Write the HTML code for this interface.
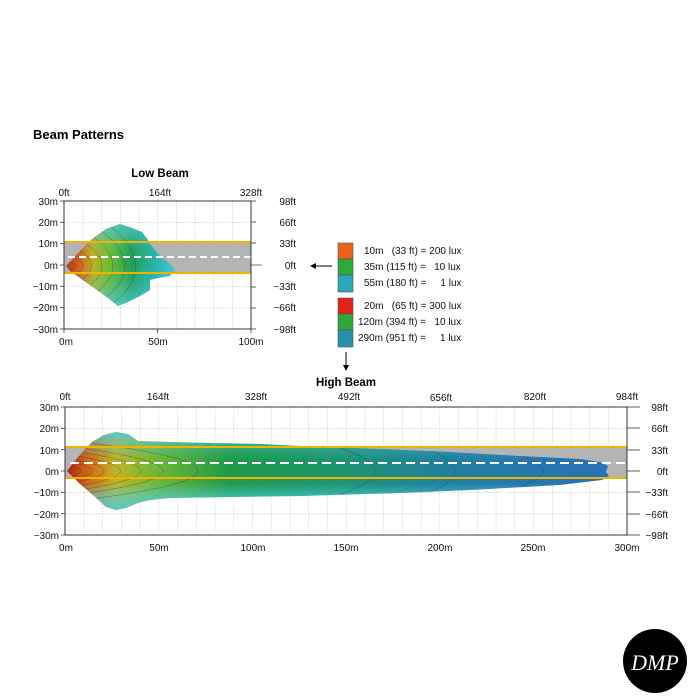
<!DOCTYPE html>
<html><head><meta charset="utf-8"><style>
html,body{margin:0;padding:0;background:#fff;}
svg{display:block;font-family:"Liberation Sans",sans-serif;}
.pre{white-space:pre;}
</style></head><body>
<svg width="700" height="700" viewBox="0 0 700 700">
<defs>
<pattern id="gL" x="64" y="201" width="18.7" height="21.33" patternUnits="userSpaceOnUse">
<line x1="0" y1="0" x2="0" y2="21.33" stroke="#999" stroke-width="0.7" stroke-dasharray="1.5,1.5"/>
<line x1="0" y1="0" x2="18.7" y2="0" stroke="#999" stroke-width="0.7" stroke-dasharray="1.5,1.5"/>
</pattern>
<pattern id="gH" x="65" y="407" width="18.73" height="21.33" patternUnits="userSpaceOnUse">
<line x1="0" y1="0" x2="0" y2="21.33" stroke="#999" stroke-width="0.7" stroke-dasharray="1.5,1.5"/>
<line x1="0" y1="0" x2="18.73" y2="0" stroke="#999" stroke-width="0.7" stroke-dasharray="1.5,1.5"/>
</pattern>
<linearGradient id="lowG" x1="66" y1="0" x2="175" y2="0" gradientUnits="userSpaceOnUse">
<stop offset="0" stop-color="#b8341a"/>
<stop offset="0.12" stop-color="#d0601a"/>
<stop offset="0.25" stop-color="#c0b020"/>
<stop offset="0.4" stop-color="#6cbc30"/>
<stop offset="0.6" stop-color="#20a050"/>
<stop offset="0.8" stop-color="#28b0a8"/>
<stop offset="1" stop-color="#40c8d8"/>
</linearGradient>
<linearGradient id="hiG" x1="67" y1="0" x2="610" y2="0" gradientUnits="userSpaceOnUse">
<stop offset="0" stop-color="#b02818"/>
<stop offset="0.04" stop-color="#d06a18"/>
<stop offset="0.09" stop-color="#c0b428"/>
<stop offset="0.16" stop-color="#70b838"/>
<stop offset="0.3" stop-color="#1e9a48"/>
<stop offset="0.5" stop-color="#1e9470"/>
<stop offset="0.7" stop-color="#2080a0"/>
<stop offset="1" stop-color="#2a70b8"/>
</linearGradient>
<linearGradient id="edgeH" x1="0" y1="432" x2="0" y2="510" gradientUnits="userSpaceOnUse">
<stop offset="0" stop-color="#50c8e0" stop-opacity="0.9"/>
<stop offset="0.2" stop-color="#50c8e0" stop-opacity="0.3"/>
<stop offset="0.35" stop-color="#50c8e0" stop-opacity="0"/>
<stop offset="0.65" stop-color="#50c8e0" stop-opacity="0"/>
<stop offset="0.8" stop-color="#50d0e0" stop-opacity="0.5"/>
<stop offset="1" stop-color="#50c8e0" stop-opacity="0.9"/>
</linearGradient>
<linearGradient id="edgeL" x1="0" y1="224" x2="0" y2="306" gradientUnits="userSpaceOnUse">
<stop offset="0" stop-color="#50c8e0" stop-opacity="0.8"/>
<stop offset="0.3" stop-color="#50c8e0" stop-opacity="0.1"/>
<stop offset="0.5" stop-color="#50c8e0" stop-opacity="0"/>
<stop offset="0.7" stop-color="#50c8e0" stop-opacity="0.2"/>
<stop offset="1" stop-color="#50c8e0" stop-opacity="0.8"/>
</linearGradient>
<clipPath id="cL"><polygon points="66,266 78,253 92,239 106,229 120,224 132,228 142,232 148,240 150,244 160,256 170,264 175,270 170,276 158,278 150,280 150,290 140,296 128,302 118,306 108,298 94,288 80,278 70,271"/></clipPath>
<clipPath id="cH"><polygon points="67,471 78,457 92,442 104,435 116,432 128,434 138,441 170,442 210,443 260,444 300,446 380,449 450,452 520,456 580,459 600,462 608,466 606,472 609,476 602,480 560,485 470,490 400,493 300,496 230,497 170,498 150,500 138,503 126,508 116,510 106,507 94,496 80,484"/></clipPath>
</defs>

<text x="33" y="139" font-size="13" font-weight="bold">Beam Patterns</text>

<!-- LOW BEAM -->
<text x="160" y="177" font-size="11.5" font-weight="bold" text-anchor="middle">Low Beam</text>
<rect x="64" y="201" width="187" height="128" fill="url(#gL)"/>
<rect x="64" y="242" width="187" height="31" fill="#b4b4b4"/>
<g clip-path="url(#cL)">
<rect x="60" y="220" width="120" height="90" fill="url(#lowG)"/>
<rect x="60" y="220" width="120" height="90" fill="url(#edgeL)"/>
<g fill="none" stroke="#333" stroke-width="0.5" opacity="0.6">
<path d="M70,262 Q82,266 70,270"/><path d="M72,256 Q94,266 72,276"/><path d="M75,248 Q108,266 75,284"/><path d="M80,240 Q124,266 80,292"/><path d="M86,232 Q140,266 86,300"/><path d="M94,226 Q156,266 94,306"/><path d="M104,222 Q168,266 104,310"/>
</g>
</g>
<line x1="64" y1="242" x2="251" y2="242" stroke="#f0b400" stroke-width="2"/>
<line x1="64" y1="273" x2="251" y2="273" stroke="#f0b400" stroke-width="2"/>
<line x1="68" y1="257" x2="251" y2="257" stroke="#fff" stroke-width="2" stroke-dasharray="7,4"/>
<line x1="251" y1="265" x2="262" y2="265" stroke="#555" stroke-width="0.8"/>
<rect x="64" y="201" width="187" height="128" fill="none" stroke="#333" stroke-width="1"/>
<g stroke="#333" stroke-width="0.8">
<line x1="64" y1="329" x2="64" y2="333"/><line x1="157.5" y1="329" x2="157.5" y2="333"/><line x1="251" y1="329" x2="251" y2="333"/>
<line x1="60" y1="201" x2="64" y2="201"/><line x1="60" y1="222.3" x2="64" y2="222.3"/><line x1="60" y1="243.7" x2="64" y2="243.7"/><line x1="60" y1="265" x2="64" y2="265"/><line x1="60" y1="286.3" x2="64" y2="286.3"/><line x1="60" y1="307.7" x2="64" y2="307.7"/><line x1="60" y1="329" x2="64" y2="329"/>
<line x1="251" y1="201" x2="256" y2="201"/><line x1="251" y1="222" x2="256" y2="222"/><line x1="251" y1="243" x2="256" y2="243"/><line x1="251" y1="287" x2="256" y2="287"/><line x1="251" y1="308" x2="256" y2="308"/><line x1="251" y1="329" x2="256" y2="329"/>
</g>
<g font-size="10" fill="#111">
<text x="64" y="196" text-anchor="middle">0ft</text><text x="160" y="196" text-anchor="middle">164ft</text><text x="251" y="196" text-anchor="middle">328ft</text>
<g text-anchor="end"><text x="58" y="205">30m</text><text x="58" y="226">20m</text><text x="58" y="247">10m</text><text x="58" y="269">0m</text><text x="58" y="290">−10m</text><text x="58" y="311">−20m</text><text x="58" y="333">−30m</text></g>
<g text-anchor="middle"><text x="66" y="345">0m</text><text x="158" y="345">50m</text><text x="251" y="345">100m</text></g>
<g text-anchor="end"><text x="296" y="205">98ft</text><text x="296" y="226">66ft</text><text x="296" y="247">33ft</text><text x="296" y="269">0ft</text><text x="296" y="290">−33ft</text><text x="296" y="311">−66ft</text><text x="296" y="333">−98ft</text></g>
</g>

<!-- LEGEND -->
<line x1="314" y1="266" x2="332" y2="266" stroke="#000" stroke-width="1"/>
<polygon points="310,266 316,263 316,269" fill="#000"/>
<g stroke="#555" stroke-width="0.6">
<rect x="338" y="243" width="15" height="16" fill="#e8641c"/>
<rect x="338" y="259" width="15" height="16" fill="#2eaa3c"/>
<rect x="338" y="275" width="15" height="17" fill="#2aa8b8"/>
<rect x="338" y="298" width="15" height="16" fill="#e02418"/>
<rect x="338" y="314" width="15" height="16" fill="#2ea838"/>
<rect x="338" y="330" width="15" height="17" fill="#2890a8"/>
</g>
<g font-size="10" fill="#111" class="pre">
<text x="364" y="254" class="pre">10m   (33 ft) = 200 lux</text>
<text x="364" y="270" class="pre">35m (115 ft) =   10 lux</text>
<text x="364" y="286" class="pre">55m (180 ft) =     1 lux</text>
<text x="364" y="309" class="pre">20m   (65 ft) = 300 lux</text>
<text x="358" y="325" class="pre">120m (394 ft) =   10 lux</text>
<text x="358" y="341" class="pre">290m (951 ft) =     1 lux</text>
</g>
<line x1="346" y1="352" x2="346" y2="366" stroke="#000" stroke-width="1"/>
<polygon points="346,371 343,365 349,365" fill="#000"/>

<!-- HIGH BEAM -->
<text x="346" y="386" font-size="11.5" font-weight="bold" text-anchor="middle">High Beam</text>
<rect x="65" y="407" width="562" height="128" fill="url(#gH)"/>
<rect x="65" y="447" width="562" height="31" fill="#b4b4b4"/>
<g clip-path="url(#cH)">
<rect x="60" y="425" width="560" height="90" fill="url(#hiG)"/>
<rect x="60" y="425" width="560" height="90" fill="url(#edgeH)"/>
<g fill="none" stroke="#222" stroke-width="0.5" opacity="0.5">
<path d="M66,467 Q80,471 66,475"/><path d="M66,464 Q96,471 66,478"/><path d="M66,461 Q118,471 66,481"/><path d="M66,458 Q142,471 66,484"/>
<path d="M66,454 Q175,471 66,488"/><path d="M66,450 Q215,471 66,492"/><path d="M66,446 Q260,471 66,496"/><path d="M66,440 Q330,471 66,502"/>
<path d="M340,448 Q410,471 340,494"/><path d="M430,450 Q480,471 430,492"/><path d="M520,455 Q565,471 520,487"/>
</g>
</g>
<line x1="65" y1="447" x2="627" y2="447" stroke="#f0b400" stroke-width="2"/>
<line x1="65" y1="478" x2="627" y2="478" stroke="#f0b400" stroke-width="2"/>
<line x1="70" y1="463" x2="627" y2="463" stroke="#fff" stroke-width="2" stroke-dasharray="9,5"/>
<rect x="65" y="407" width="562" height="128" fill="none" stroke="#333" stroke-width="1"/>
<g stroke="#333" stroke-width="0.8">
<line x1="61" y1="407" x2="65" y2="407"/><line x1="61" y1="428.3" x2="65" y2="428.3"/><line x1="61" y1="449.7" x2="65" y2="449.7"/><line x1="61" y1="471" x2="65" y2="471"/><line x1="61" y1="492.3" x2="65" y2="492.3"/><line x1="61" y1="513.7" x2="65" y2="513.7"/><line x1="61" y1="535" x2="65" y2="535"/>
<line x1="627" y1="407" x2="640" y2="407"/><line x1="627" y1="428" x2="640" y2="428"/><line x1="627" y1="450" x2="640" y2="450"/><line x1="627" y1="471" x2="640" y2="471"/><line x1="627" y1="492" x2="640" y2="492"/><line x1="627" y1="514" x2="640" y2="514"/><line x1="627" y1="535" x2="640" y2="535"/>
</g>
<g font-size="10" fill="#111">
<g text-anchor="middle"><text x="65" y="400">0ft</text><text x="158" y="400">164ft</text><text x="256" y="400">328ft</text><text x="349" y="400">492ft</text><text x="441" y="401">656ft</text><text x="535" y="400">820ft</text><text x="627" y="400">984ft</text></g>
<g text-anchor="end"><text x="59" y="411">30m</text><text x="59" y="432">20m</text><text x="59" y="454">10m</text><text x="59" y="475">0m</text><text x="59" y="496">−10m</text><text x="59" y="518">−20m</text><text x="59" y="539">−30m</text></g>
<g text-anchor="middle"><text x="66" y="551">0m</text><text x="159" y="551">50m</text><text x="253" y="551">100m</text><text x="346" y="551">150m</text><text x="440" y="551">200m</text><text x="533" y="551">250m</text><text x="627" y="551">300m</text></g>
<g text-anchor="end"><text x="668" y="411">98ft</text><text x="668" y="432">66ft</text><text x="668" y="454">33ft</text><text x="668" y="475">0ft</text><text x="668" y="496">−33ft</text><text x="668" y="518">−66ft</text><text x="668" y="539">−98ft</text></g>
</g>

<!-- LOGO -->
<circle cx="655" cy="661" r="32" fill="#000"/>
<text x="655" y="670" font-size="22" font-style="italic" fill="#fff" text-anchor="middle" font-family="Liberation Serif,serif">DMP</text>
</svg>
</body></html>
